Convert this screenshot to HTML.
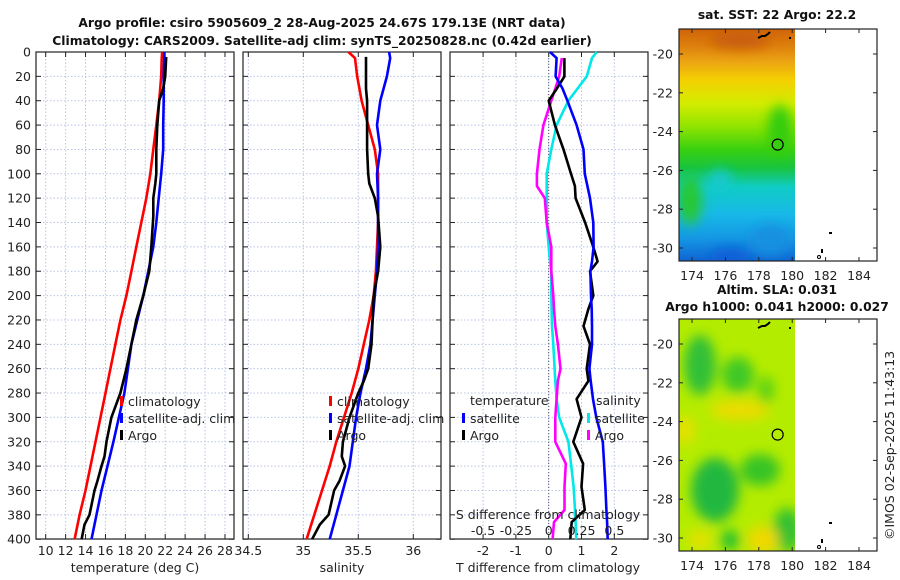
<!DOCTYPE html>
<html><head><meta charset="utf-8">
<style>
html,body{margin:0;padding:0;background:#fff;}
svg{display:block;font-family:"DejaVu Sans","Liberation Sans",sans-serif;}
.t{font-size:12.5px;fill:#222;}
.b{font-weight:bold;font-size:12.3px;fill:#111;}
.g{stroke:#b8c4e6;stroke-width:1;stroke-dasharray:1.5,2;}
</style></head>
<body>
<svg id="fig" width="900" height="580" viewBox="0 0 900 580" xmlns="http://www.w3.org/2000/svg">
<text class="b" x="322" y="27" text-anchor="middle">Argo profile: csiro 5905609_2 28-Aug-2025 24.67S 179.13E (NRT data)</text>
<text class="b" x="322" y="45" text-anchor="middle">Climatology: CARS2009. Satellite-adj clim: synTS_20250828.nc (0.42d earlier)</text>
<g id="p1"></g>
<g id="p2"></g>
<g id="p3"></g>
<g id="maps">
<defs>
<linearGradient id="sst" x1="0" y1="0" x2="0" y2="1">
<stop offset="0" stop-color="#d06408"/><stop offset="0.07" stop-color="#dc7e0c"/>
<stop offset="0.14" stop-color="#eca414"/><stop offset="0.22" stop-color="#f4d000"/>
<stop offset="0.32" stop-color="#d4ec00"/><stop offset="0.42" stop-color="#90e400"/>
<stop offset="0.52" stop-color="#38d010"/><stop offset="0.6" stop-color="#18c440"/>
<stop offset="0.68" stop-color="#10ccc4"/><stop offset="0.8" stop-color="#18b8e8"/>
<stop offset="0.9" stop-color="#1498e4"/><stop offset="1" stop-color="#1064d4"/>
</linearGradient>
<filter id="bl"><feGaussianBlur stdDeviation="6"/></filter>
<clipPath id="c1"><rect x="679" y="29" width="116" height="232"/></clipPath>
<clipPath id="c2"><rect x="679" y="319" width="116" height="232"/></clipPath>
</defs>
<g clip-path="url(#c1)">
<rect x="679" y="29" width="116" height="232" fill="url(#sst)"/>
<g filter="url(#bl)">
<ellipse cx="690" cy="200" rx="12" ry="25" fill="#28c830"/>
<ellipse cx="720" cy="180" rx="12" ry="10" fill="#18c8d0"/>
<ellipse cx="780" cy="130" rx="12" ry="25" fill="#30cc10"/>
<ellipse cx="770" cy="240" rx="20" ry="15" fill="#1490e0"/>
<ellipse cx="730" cy="258" rx="20" ry="10" fill="#1060d8"/>
<ellipse cx="740" cy="40" rx="30" ry="8" fill="#c85c08"/>
</g></g>
<g clip-path="url(#c2)">
<rect x="679" y="319" width="116" height="232" fill="#b4ec00"/>
<g filter="url(#bl)">
<ellipse cx="700" cy="365" rx="16" ry="30" fill="#30c038"/>
<ellipse cx="738" cy="375" rx="16" ry="18" fill="#40c828"/>
<ellipse cx="766" cy="390" rx="8" ry="14" fill="#58d018"/>
<ellipse cx="715" cy="490" rx="24" ry="32" fill="#20b840"/>
<ellipse cx="760" cy="470" rx="20" ry="16" fill="#38c428"/>
<ellipse cx="787" cy="530" rx="14" ry="22" fill="#30c030"/>
<ellipse cx="730" cy="540" rx="10" ry="10" fill="#28c030"/>
<ellipse cx="740" cy="410" rx="30" ry="10" fill="#ecdc00"/>
<ellipse cx="763" cy="540" rx="16" ry="14" fill="#f0d800"/>
<ellipse cx="700" cy="540" rx="12" ry="10" fill="#e4e000"/>
<ellipse cx="685" cy="430" rx="10" ry="14" fill="#e8e000"/>
</g></g>
</g>
<g id="m1"></g>
<g id="m2"></g>
<text class="b" x="777" y="19" text-anchor="middle">sat. SST: 22 Argo: 22.2</text>
<text class="b" x="777" y="294" text-anchor="middle">Altim. SLA: 0.031</text>
<text class="b" x="777" y="311" text-anchor="middle">Argo h1000: 0.041 h2000: 0.027</text>
<text class="t" transform="translate(894,540) rotate(-90)">©IMOS 02-Sep-2025 11:43:13</text>
</svg>
<script>
// ---- data ----
const depthTicks=[0,20,40,60,80,100,120,140,160,180,200,220,240,260,280,300,320,340,360,380,400];
const tTicks=[10,12,14,16,18,20,22,24,26,28];
const sTicks=[34.5,35,35.5,36];
const dTTicks=[-2,-1,0,1,2];
const dSTicks=[-0.5,-0.25,0,0.25,0.5];
const dSTickLabels=["-0.5","-0.25","0","0.25","0.5"];
const climDepth=[0,5,20,40,60,80,100,120,140,160,180,200,220,240,260,280,300,320,340,360,380,400];
const climT=[21.7,21.65,21.6,21.4,21.1,20.8,20.5,20.1,19.6,19.1,18.6,18.1,17.5,17.0,16.5,16.0,15.5,15.0,14.5,14.0,13.4,12.9];
const satT=[21.9,21.9,21.85,21.85,21.8,21.8,21.6,21.35,21.1,20.8,20.3,19.8,19.2,18.6,18.25,17.9,17.35,16.8,16.2,15.6,15.1,14.6];
const climS=[35.41,35.47,35.49,35.53,35.59,35.65,35.68,35.68,35.68,35.67,35.66,35.64,35.6,35.55,35.5,35.44,35.37,35.3,35.24,35.17,35.1,35.03];
const satS=[35.78,35.79,35.76,35.7,35.67,35.7,35.67,35.68,35.68,35.68,35.67,35.65,35.63,35.61,35.57,35.52,35.48,35.45,35.42,35.36,35.3,35.24];
const argoDepth=[4,20,30,40,60,80,100,108,120,135,160,180,200,220,240,260,270,280,300,320,332,340,352,360,380,388,400];
const argoT=[22.1,22.0,21.8,21.4,21.2,21.1,21.1,21.0,20.8,20.8,20.6,20.4,19.8,19.1,18.6,18.1,17.8,17.5,16.6,16.1,15.9,15.6,15.2,14.9,14.4,13.9,13.6];
const argoS=[35.57,35.57,35.57,35.58,35.58,35.58,35.59,35.6,35.65,35.68,35.7,35.68,35.64,35.63,35.62,35.59,35.55,35.5,35.42,35.36,35.35,35.38,35.33,35.28,35.23,35.15,35.08];
const diffDepth=[0,5,20,30,40,60,80,100,110,120,140,160,172,180,200,211,225,240,260,270,285,300,320,338,357,376,386,400];
const dTsat=[0.04,0.24,0.21,0.42,0.57,0.85,1.06,1.1,1.18,1.26,1.36,1.37,1.32,1.27,1.29,1.31,1.32,1.32,1.24,1.28,1.35,1.45,1.65,1.69,1.73,1.76,1.78,1.8];
const dTargo=[null,0.48,0.48,0.25,0.0,0.19,0.45,0.68,0.8,0.82,1.11,1.36,1.49,1.26,1.36,1.21,1.06,1.26,1.16,1.21,0.85,1.0,0.75,1.05,1.0,1.1,0.7,0.66];
const dSsat=[0.366,0.33,0.29,0.22,0.15,0.06,0.02,-0.015,-0.015,-0.015,-0.015,0.0,0.01,0.02,0.02,0.022,0.025,0.035,0.045,0.05,0.06,0.08,0.15,0.17,0.19,0.2,0.205,0.21];
const dSargo=[null,0.1,0.08,0.05,0.02,-0.04,-0.07,-0.09,-0.09,-0.03,-0.015,0.02,0.02,0.02,0.035,0.04,0.05,0.07,0.09,0.07,0.06,0.05,0.05,0.13,0.12,0.12,0.04,0.03];
const lonTicks=[174,176,178,180,182,184];
const latTicks=[-20,-22,-24,-26,-28,-30];
const argoLon=179.13, argoLat=-24.67;

const NS="http://www.w3.org/2000/svg";
function mk(p,tag,at,txt){const e=document.createElementNS(NS,tag);for(const k in at)e.setAttribute(k,at[k]);if(txt!==undefined)e.textContent=txt;p.appendChild(e);return e;}
const yD=d=>52+d*1.218;
const yTop=52,yBot=539;
const xT=v=>45.7+(v-10)*9.96;
const xS=v=>248.3+(v-34.5)*110;
const xdT=v=>548.7+v*32.8;
const xdS=v=>548.7+v*131.3;

function frame(g,x0,x1,xf,ticks,labels,vgrid,leftLabels){
  for(const d of depthTicks){const l=mk(g,'line',{x1:x0,x2:x1,y1:yD(d),y2:yD(d),class:'g'});
    
    
    mk(g,'line',{x1:x0,x2:x0+5,y1:yD(d),y2:yD(d),stroke:'#222'});
    mk(g,'line',{x1:x1-5,x2:x1,y1:yD(d),y2:yD(d),stroke:'#222'});
    if(leftLabels){const t=mk(g,'text',{x:x0-5,y:yD(d)+4.5,'text-anchor':'end',class:'t'},String(d));
      
      }
  }
  ticks.forEach((v,i)=>{const x=xf(v);
    if(vgrid){const l=mk(g,'line',{x1:x,x2:x,y1:yTop,y2:yBot,class:'g'});
      
      }
    mk(g,'line',{x1:x,x2:x,y1:yBot-5,y2:yBot,stroke:'#222'});
    mk(g,'line',{x1:x,x2:x,y1:yTop,y2:yTop+5,stroke:'#222'});
    if(labels){const t=mk(g,'text',{x:x,y:555,'text-anchor':'middle',class:'t'},labels[i]);
      
      }
  });
  mk(g,'rect',{x:x0,y:yTop,width:x1-x0,height:yBot-yTop,fill:'none',stroke:'#222','stroke-width':1.2});
}
function line(g,xs,ds,xf,col,name){
  let pts=[];xs.forEach((v,i)=>{if(v!==null)pts.push(xf(v).toFixed(1)+','+yD(ds[i]).toFixed(1));});
  const p=mk(g,'polyline',{points:pts.join(' '),fill:'none',stroke:col,'stroke-width':2.6,'stroke-linejoin':'round'});
  
  
}
function legend(g,x,y,items){
  items.forEach((it,i)=>{const yy=y+i*17;
    mk(g,'rect',{x:x,y:yy-9,width:3,height:10,fill:it[1]});
    const t=mk(g,'text',{x:x+8,y:yy+1,class:'t'},it[0]);
    
    });
}
// panel 1
const p1=document.getElementById('p1');
frame(p1,36,234,xT,tTicks,tTicks.map(String),true,true);
line(p1,climT,climDepth,xT,'#ff0000','temperature-climatology-line');
line(p1,satT,climDepth,xT,'#0000ff','temperature-satellite-line');
line(p1,argoT,argoDepth,xT,'#000','temperature-argo-line');
legend(p1,120,405,[['climatology','#f00'],['satellite-adj. clim','#00f'],['Argo','#000']]);
let tx=mk(p1,'text',{x:135,y:572,'text-anchor':'middle',class:'t'},'temperature (deg C)');


// panel 2
const p2=document.getElementById('p2');
frame(p2,243,441,xS,sTicks,sTicks.map(String),true,false);
line(p2,climS,climDepth,xS,'#ff0000','salinity-climatology-line');
line(p2,satS,climDepth,xS,'#0000ff','salinity-satellite-line');
line(p2,argoS,argoDepth,xS,'#000','salinity-argo-line');
legend(p2,329,405,[['climatology','#f00'],['satellite-adj. clim','#00f'],['Argo','#000']]);
tx=mk(p2,'text',{x:342,y:572,'text-anchor':'middle',class:'t'},'salinity');


// panel 3
const p3=document.getElementById('p3');
frame(p3,450,648,xdT,dTTicks,dTTicks.map(String),true,false);
mk(p3,'line',{x1:xdT(0),x2:xdT(0),y1:yTop,y2:yBot,stroke:'#556',"stroke-dasharray":"1,2"});
line(p3,dSsat,diffDepth,xdS,'#00e8e8','salinity-satellite-diff-line');
line(p3,dSargo,diffDepth,xdS,'#ff00ff','salinity-argo-diff-line');
line(p3,dTargo,diffDepth,xdT,'#000','temperature-argo-diff-line');
line(p3,dTsat,diffDepth,xdT,'#0000ff','temperature-satellite-diff-line');
tx=mk(p3,'text',{x:470,y:405,class:'t'},'temperature');


tx=mk(p3,'text',{x:596,y:405,class:'t'},'salinity');


legend(p3,462,422,[['satellite','#00f'],['Argo','#000']]);
legend(p3,587,422,[['satellite','#00e8e8'],['Argo','#f0f']]);
tx=mk(p3,'text',{x:548,y:519,'text-anchor':'middle',class:'t'},'S difference from climatology');


dSTicks.forEach((v,i)=>{const tt=mk(p3,'text',{x:xdS(v),y:535,'text-anchor':'middle',class:'t'},dSTickLabels[i]);
  
  });
tx=mk(p3,'text',{x:548,y:572,'text-anchor':'middle',class:'t'},'T difference from climatology');


// maps
const xL=v=>692+(v-174)*16.7;
function mapAxes(g,oy){
  const yL=v=>oy+54+(-20-v)*19.4;
  mk(g,'rect',{x:679,y:oy+29,width:198,height:232,fill:'none',stroke:'#222','stroke-width':1.2});
  lonTicks.forEach(v=>{const x=xL(v);
    mk(g,'line',{x1:x,x2:x,y1:oy+29,y2:oy+33,stroke:'#222'});
    mk(g,'line',{x1:x,x2:x,y1:oy+257,y2:oy+261,stroke:'#222'});
    const tt=mk(g,'text',{x:x,y:oy+280,'text-anchor':'middle',class:'t'},String(v));
    
    });
  latTicks.forEach(v=>{const y=yL(v);
    mk(g,'line',{x1:679,x2:683,y1:y,y2:y,stroke:'#222'});
    mk(g,'line',{x1:873,x2:877,y1:y,y2:y,stroke:'#222'});
    const tt=mk(g,'text',{x:673,y:y+4.5,'text-anchor':'end',class:'t'},String(v));
    
    });
  const c=mk(g,'circle',{cx:xL(argoLon),cy:yL(argoLat),r:5.5,fill:'none',stroke:'#000','stroke-width':1.2});
  
  
  mk(g,'path',{d:`M758 ${oy+38} l4 -2 l3 0 l3 -2 l2 -2`,stroke:'#000','stroke-width':2,fill:'none'});
  mk(g,'rect',{x:789,y:oy+37,width:2,height:2,fill:'#000'});
  mk(g,'rect',{x:829,y:oy+232,width:3,height:2,fill:'#000'});
  mk(g,'rect',{x:821,y:oy+249,width:2,height:4,fill:'#000'});
  mk(g,'circle',{cx:819,cy:oy+257,r:1.5,fill:'none',stroke:'#000'});
}
mapAxes(document.getElementById('m1'),0);
mapAxes(document.getElementById('m2'),290);
</script>
</body></html>
